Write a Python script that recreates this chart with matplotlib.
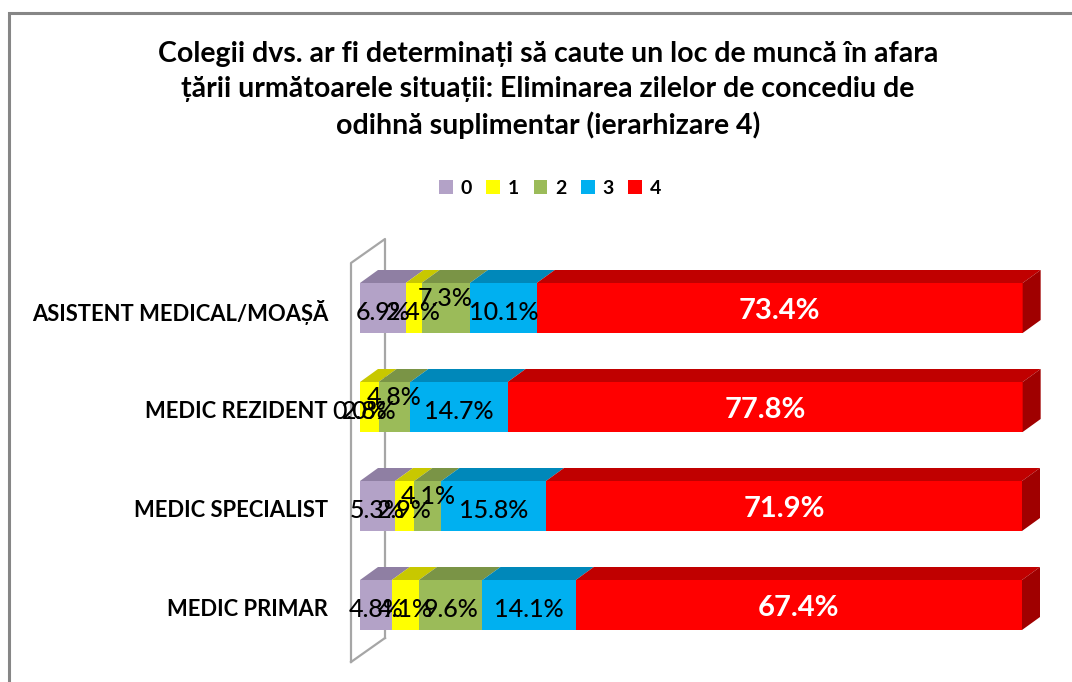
import matplotlib.pyplot as plt
from matplotlib.patches import Polygon, Rectangle, Patch

plt.rcParams['font.family'] = ['Lato', 'DejaVu Sans']

# data (percent), rows listed top to bottom
categories = ["ASISTENT MEDICAL/MOAȘĂ", "MEDIC REZIDENT", "MEDIC SPECIALIST", "MEDIC PRIMAR"]
series_names = ["0", "1", "2", "3", "4"]
v0 = [6.9, 0.0, 5.3, 4.8]
v1 = [2.4, 2.8, 2.9, 4.1]
v2 = [7.3, 4.8, 4.1, 9.6]
v3 = [10.1, 14.7, 15.8, 14.1]
v4 = [73.4, 77.8, 71.9, 67.4]
values = [v0, v1, v2, v3, v4]

title = ("Colegii dvs. ar fi determinați să caute un loc de muncă în afara\n"
         "țării următoarele situații: Eliminarea zilelor de concediu de\n"
         "odihnă suplimentar (ierarhizare 4)")

# front / top / side shades per series
front = ["#B3A2C7", "#FFFF00", "#9BBB59", "#00B0F0", "#FF0000"]
top = ["#8F7FA3", "#C8C800", "#7A9446", "#0088BA", "#C00000"]
side = ["#7A6C8C", "#A8A800", "#637A38", "#006E99", "#A00000"]

# labels nudged upward to avoid overlaps (row, series)
raised = {(0, 2), (1, 2), (2, 2)}

W, H = 1072, 682
fig = plt.figure(figsize=(W / 100, H / 100), dpi=100)

# axes placed in pixel terms
px_l, px_r, px_t, px_b = 348, 1045, 230, 672
ax = fig.add_axes([px_l / W, 1 - px_b / H, (px_r - px_l) / W, (px_b - px_t) / H])
x0_px, sx = 360, 6.62      # pixel of 0 %, pixels per percent
row0_px, sy = 308, 99      # pixel of first row centre, pixels per row
ax.set_xlim((px_l - x0_px) / sx, (px_r - x0_px) / sx)
ax.set_ylim((px_b - row0_px) / sy, (px_t - row0_px) / sy)
ax.axis("off")

dx = 18 / sx   # depth in x
dy = 13 / sy   # depth in y (upwards)
bh = 50 / sy   # bar height

# side wall of the 3D plot
wx0, wx1 = (351 - x0_px) / sx, (385 - x0_px) / sx
wy_top, wy_bot = (263 - row0_px) / sy, (662 - row0_px) / sy
wd = 24 / sy
ax.plot([wx0, wx0, wx1, wx1], [wy_bot, wy_top, wy_top - wd, wy_bot - wd],
        color="#A6A6A6", lw=1.6, zorder=1, clip_on=False)
ax.plot([wx0, wx1], [wy_bot, wy_bot - wd], color="#A6A6A6", lw=1.6, zorder=1, clip_on=False)

for r, cat in enumerate(categories):
    left = 0.0
    yt = r - bh / 2
    for s in range(len(values)):
        w = values[s][r]
        ax.add_patch(Rectangle((left, yt), w, bh, facecolor=front[s], edgecolor="none", zorder=3))
        ax.add_patch(Polygon([(left, yt), (left + w, yt), (left + w + dx, yt - dy), (left + dx, yt - dy)],
                             closed=True, facecolor=top[s], edgecolor="none", zorder=3))
        if s == len(values) - 1:
            ax.add_patch(Polygon([(left + w, yt), (left + w + dx, yt - dy),
                                  (left + w + dx, yt + bh - dy), (left + w, yt + bh)],
                                 closed=True, facecolor=side[s], edgecolor="none", zorder=3))
        cx = left + w / 2
        if s == len(values) - 1:
            ax.text(cx, r + 0.03, f"{w:.1f}%", ha="center", va="center", color="white",
                    fontsize=21, fontweight="bold", zorder=5)
        else:
            cy = r + 0.05 - (0.15 if (r, s) in raised else 0)
            ax.text(cx, cy, f"{w:.1f}%", ha="center", va="center", color="black",
                    fontsize=18, fontweight="medium", zorder=5)
        left += w
    ax.text((328 - x0_px) / sx, r + 0.05, cat, ha="right", va="center",
            fontsize=15.8, fontweight="bold", clip_on=False)

fig.text(548 / W, 1 - 90 / H, title, ha="center", va="center", fontsize=20.5,
         fontweight="bold", linespacing=1.42)

handles = [Patch(facecolor=front[i], edgecolor="none") for i in range(len(series_names))]
fig.legend(handles, series_names, loc="center", bbox_to_anchor=(550 / W, 1 - 188 / H), ncol=5,
           frameon=False, handlelength=0.7, handleheight=0.7, handletextpad=0.4,
           columnspacing=0.75, prop={"weight": "bold", "size": 14})

# outer chart border
fig.patches.append(Rectangle((9 / W, -0.05), 1.1, 1 - 13 / H + 0.05, transform=fig.transFigure,
                             fill=False, edgecolor="#868686", lw=2.2))

fig.savefig("out.png", dpi=100)
